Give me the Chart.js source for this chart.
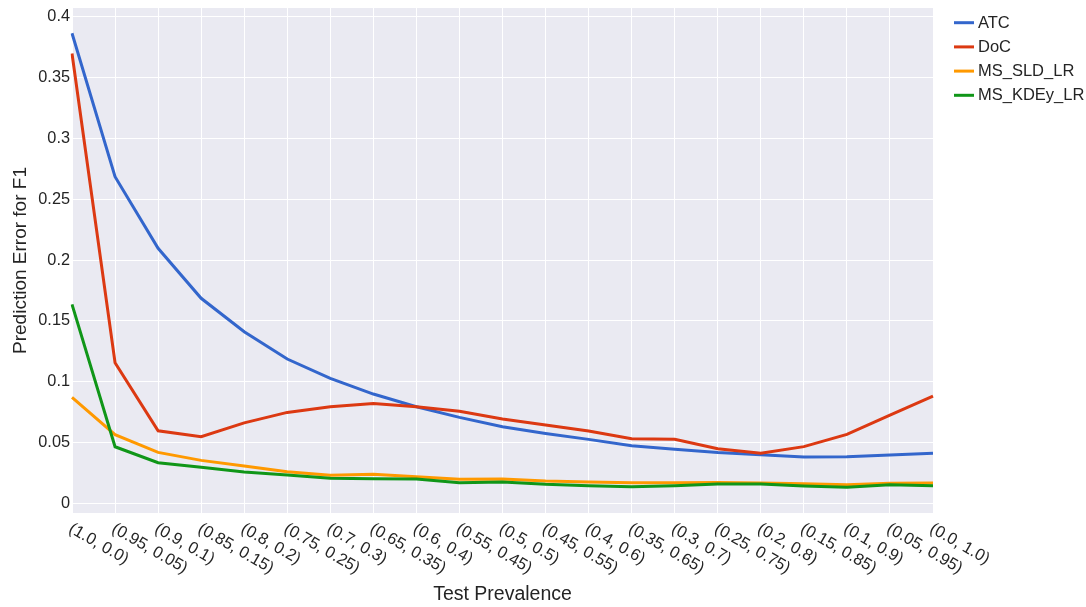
<!DOCTYPE html>
<html>
<head>
<meta charset="utf-8">
<script src="https://cdn.jsdelivr.net/npm/chart.js@4/dist/chart.umd.min.js"></script>
<style>
  html, body { margin: 0; padding: 0; background: #ffffff; }
  #wrap { width: 1086px; height: 607px; position: relative; }
</style>
</head>
<body>
<div id="wrap"><canvas id="chart" width="1086" height="607"></canvas></div>
<script>
// Test prevalence pairs (positive, negative)
const categories = [
  "(1.0, 0.0)", "(0.95, 0.05)", "(0.9, 0.1)", "(0.85, 0.15)", "(0.8, 0.2)",
  "(0.75, 0.25)", "(0.7, 0.3)", "(0.65, 0.35)", "(0.6, 0.4)", "(0.55, 0.45)",
  "(0.5, 0.5)", "(0.45, 0.55)", "(0.4, 0.6)", "(0.35, 0.65)", "(0.3, 0.7)",
  "(0.25, 0.75)", "(0.2, 0.8)", "(0.15, 0.85)", "(0.1, 0.9)", "(0.05, 0.95)",
  "(0.0, 1.0)"
];

// Prediction error for F1 per method
const atc = [0.3866, 0.2686, 0.2096, 0.1685, 0.1410, 0.1185, 0.1026, 0.0897, 0.0793, 0.0705,
             0.0628, 0.0573, 0.0524, 0.0472, 0.0442, 0.0415, 0.0398, 0.0379, 0.0381, 0.0395, 0.0409];
const doc = [0.3700, 0.1155, 0.0595, 0.0546, 0.0660, 0.0746, 0.0793, 0.0820, 0.0793, 0.0755,
             0.0691, 0.0642, 0.0593, 0.0530, 0.0524, 0.0447, 0.0409, 0.0464, 0.0565, 0.0724, 0.0880];
const msSldLr = [0.0870, 0.0562, 0.0417, 0.0351, 0.0305, 0.0258, 0.0228, 0.0236, 0.0217, 0.0195,
                 0.0198, 0.0181, 0.0173, 0.0167, 0.0167, 0.0170, 0.0165, 0.0159, 0.0151, 0.0162, 0.0165];
const msKdeyLr = [0.1635, 0.0463, 0.0332, 0.0294, 0.0255, 0.0230, 0.0203, 0.0200, 0.0197, 0.0167,
                  0.0173, 0.0154, 0.0143, 0.0134, 0.0143, 0.0156, 0.0156, 0.0140, 0.0129, 0.0150, 0.0143];

const seriesNames = ["ATC", "DoC", "MS_SLD_LR", "MS_KDEy_LR"];

const yTicks = [0, 0.05, 0.1, 0.15, 0.2, 0.25, 0.3, 0.35, 0.4];
const yTickLabels = ["0", "0.05", "0.1", "0.15", "0.2", "0.25", "0.3", "0.35", "0.4"];

const FONT = "'Liberation Sans', Arial, sans-serif";
const TEXT = "#242424";
const colors = ["#3366cc", "#dc3912", "#ff9900", "#109618"];

// Shaded plotting area
const plotBackground = {
  id: 'plotBackground',
  beforeDraw(chart) {
    const { ctx, chartArea: a } = chart;
    ctx.save();
    ctx.fillStyle = '#eaeaf2';
    ctx.fillRect(a.left, a.top, a.right - a.left, a.bottom - a.top);
    ctx.restore();
  }
};

// Slanted category labels under the x axis
const slantedLabels = {
  id: 'slantedLabels',
  afterDraw(chart) {
    const { ctx } = chart;
    const xs = chart.scales.x;
    const base = chart.chartArea.bottom;
    ctx.save();
    ctx.font = "16.5px " + FONT;
    ctx.fillStyle = TEXT;
    ctx.textAlign = 'left';
    ctx.textBaseline = 'middle';
    chart.data.labels.forEach((lab, i) => {
      const x = xs.getPixelForValue(i);
      ctx.save();
      ctx.translate(x - 2, base + 14.5);
      ctx.rotate(Math.PI / 6);
      ctx.fillText(lab, 0, 0);
      ctx.restore();
    });
    ctx.restore();
  }
};

// Legend to the right of the plot
const sideLegend = {
  id: 'sideLegend',
  afterDraw(chart) {
    const { ctx } = chart;
    const x0 = chart.chartArea.right + 21;
    ctx.save();
    ctx.font = "16.5px " + FONT;
    ctx.textAlign = 'left';
    ctx.textBaseline = 'middle';
    chart.data.datasets.forEach((ds, i) => {
      const y = 22.7 + i * 24.2;
      ctx.strokeStyle = ds.borderColor;
      ctx.lineWidth = 3;
      ctx.beginPath();
      ctx.moveTo(x0, y);
      ctx.lineTo(x0 + 20, y);
      ctx.stroke();
      ctx.fillStyle = TEXT;
      ctx.fillText(ds.label, x0 + 24, y + 0.5);
    });
    ctx.restore();
  }
};

const seriesData = [atc, doc, msSldLr, msKdeyLr];
const datasets = seriesNames.map((name, i) => ({
  label: name,
  data: seriesData[i],
  borderColor: colors[i],
  backgroundColor: colors[i],
  borderWidth: 3,
  pointRadius: 0,
  pointHoverRadius: 0,
  tension: 0,
  fill: false,
  order: seriesNames.length - 1 - i
}));

new Chart(document.getElementById('chart'), {
  type: 'line',
  data: { labels: categories, datasets },
  options: {
    responsive: false,
    animation: false,
    devicePixelRatio: 1,
    layout: { padding: { left: 0, right: 153, top: 8, bottom: 0 } },
    plugins: {
      legend: { display: false },
      tooltip: { enabled: false }
    },
    scales: {
      x: {
        type: 'category',
        offset: false,
        grid: { color: '#ffffff', lineWidth: 1, offset: false, drawTicks: false },
        border: { display: false },
        ticks: { display: false },
        title: {
          display: true,
          text: 'Test Prevalence',
          color: TEXT,
          font: { family: FONT, size: 19.5 },
          padding: { top: 0, bottom: 1 }
        },
        afterFit(scale) {
          scale.height = 94;
          scale.paddingLeft = 0;
          scale.paddingRight = 0;
        }
      },
      y: {
        min: -0.0082,
        max: 0.4074,
        grid: { color: '#ffffff', lineWidth: 1, drawTicks: false },
        border: { display: false },
        afterBuildTicks(scale) {
          scale.ticks = yTicks.map(v => ({ value: v }));
        },
        ticks: {
          padding: 2,
          color: TEXT,
          font: { family: FONT, size: 16.3 },
          callback: (v) => {
            const k = yTicks.findIndex(t => Math.abs(t - v) < 1e-9);
            return k >= 0 ? yTickLabels[k] : '';
          }
        },
        title: {
          display: true,
          text: 'Prediction Error for F1',
          color: TEXT,
          font: { family: FONT, size: 19 },
          padding: { top: 9, bottom: 0 }
        },
        afterFit(scale) {
          scale.width = 72;
          scale.paddingTop = 0;
          scale.paddingBottom = 0;
        }
      }
    }
  },
  plugins: [plotBackground, slantedLabels, sideLegend]
});
</script>
</body>
</html>
